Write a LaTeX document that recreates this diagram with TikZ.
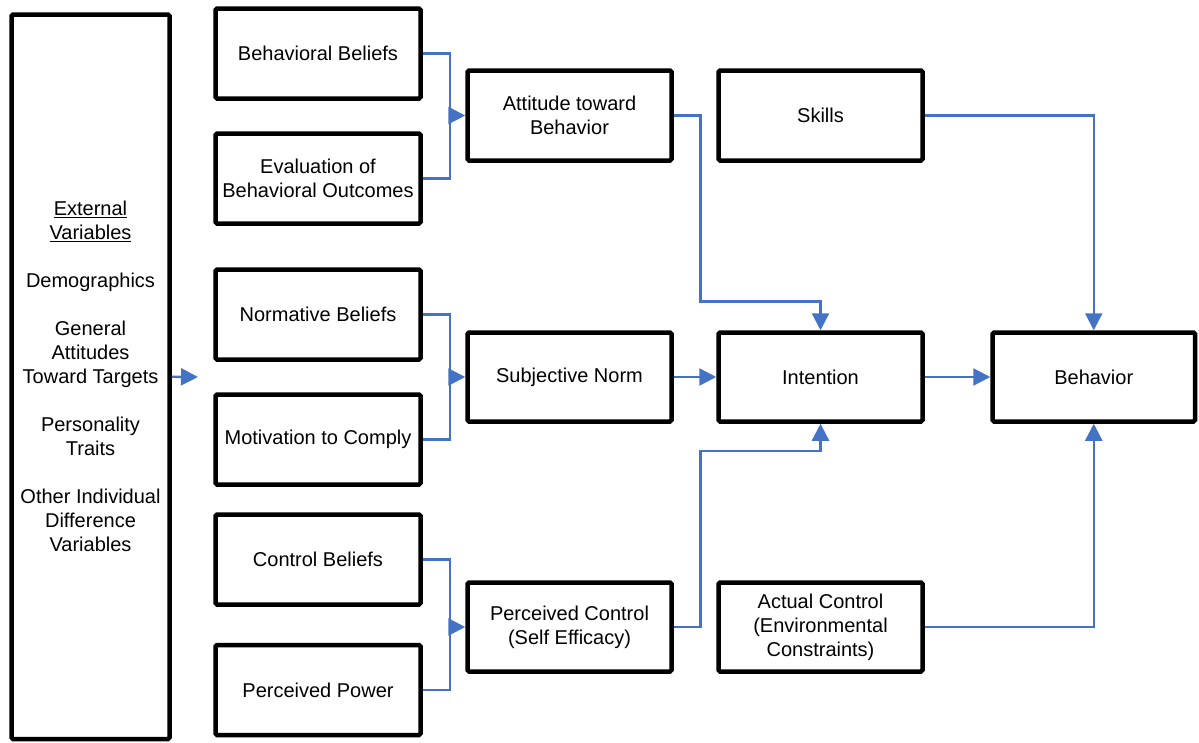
\documentclass[tikz,border=0pt]{standalone}
\usepackage{fontspec}
\setmainfont{Liberation Sans}
\usetikzlibrary{arrows.meta}
\definecolor{conn}{RGB}{68,114,196}
\begin{document}
\begin{tikzpicture}[x=1pt,y=-1pt,
  box/.style={draw=black,line width=4.5pt,rounded corners=1.5pt,minimum width=205pt,minimum height=90pt,align=center,inner sep=0pt,font=\fontsize{20}{24}\selectfont},
  link/.style={draw=conn,line width=2.4pt},
  arr/.style={link,-{Triangle[length=17pt 0 0,width=17pt 0 0]}}]
\useasboundingbox (0,0) rectangle (1199,742);
% left column
\node[box,minimum width=158pt,minimum height=724.5pt] (ext) at (90.5,376.75)
  {\underline{External}\\ \underline{Variables}\\[24pt]
   Demographics\\[24pt]
   General\\ Attitudes\\ Toward Targets\\[24pt]
   Personality\\ Traits\\[24pt]
   Other Individual\\ Difference\\ Variables};
% column 2
\node[box] (bb) at (318,53.5) {Behavioral Beliefs};
\node[box] (ev) at (318,178.5) {Evaluation of\\ Behavioral Outcomes};
\node[box] (nb) at (318,314.5) {Normative Beliefs};
\node[box] (mc) at (318,439.5) {Motivation to Comply};
\node[box] (cb) at (318,559.5) {Control Beliefs};
\node[box] (pp) at (318,690) {Perceived Power};
% column 3
\node[box,minimum width=204pt] (att) at (569.5,115.5) {Attitude toward\\ Behavior};
\node[box,minimum width=204pt,minimum height=89pt] (sn) at (569.5,377) {Subjective Norm};
\node[box,minimum width=204pt,minimum height=89pt] (pc) at (569.5,627) {Perceived Control\\ (Self Efficacy)};
% column 4
\node[box,minimum width=204pt] (sk) at (820.5,115.5) {Skills};
\node[box,minimum width=204pt,minimum height=89pt] (int) at (820.5,377) {Intention};
\node[box,minimum width=204pt,minimum height=89pt] (ac) at (820.5,627) {Actual Control\\ (Environmental\\ Constraints)};
% column 5
\node[box,minimum width=202.5pt,minimum height=89pt] (beh) at (1093.75,377) {Behavior};
% junctions
\coordinate (j1) at (450,115.5);
\coordinate (j2) at (450,377);
\coordinate (j3) at (450,627);
\coordinate (k1) at (700.5,301.5);
\coordinate (k2) at (700.5,451);
\coordinate (lt) at (198,377);
% connectors
\draw[arr] (ext.east) -- (lt);
\draw[link] (bb.east) -| (j1) |- (ev.east);
\draw[arr] (j1) -- (att.west);
\draw[link] (nb.east) -| (j2) |- (mc.east);
\draw[arr] (j2) -- (sn.west);
\draw[link] (cb.east) -| (j3) |- (pp.east);
\draw[arr] (j3) -- (pc.west);
\draw[arr] (att.east) -| (k1) -| (int.north);
\draw[arr] (pc.east) -| (k2) -| (int.south);
\draw[arr] (sn.east) -- (int.west);
\draw[arr] (int.east) -- (beh.west);
\draw[arr] (sk.east) -| (beh.north);
\draw[arr] (ac.east) -| (beh.south);
\end{tikzpicture}
\end{document}
